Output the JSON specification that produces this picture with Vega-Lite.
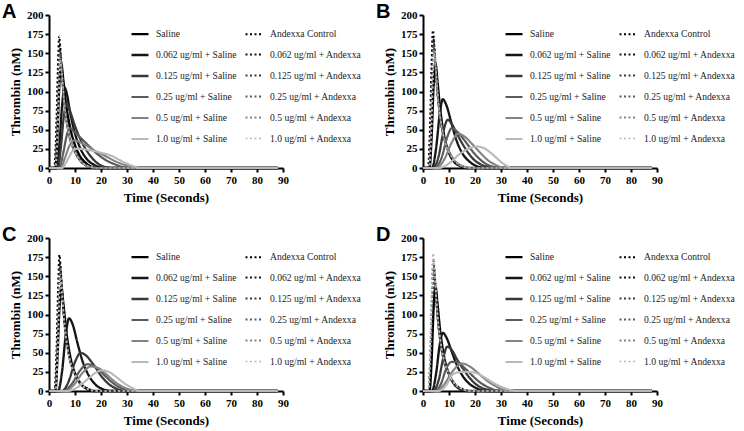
{
  "$schema": "https://vega.github.io/schema/vega-lite/v6.json",
  "background": "white",
  "padding": {"left": 2, "top": 2, "right": 2, "bottom": 2},
  "config": {
    "view": {"stroke": null},
    "font": "Liberation Serif",
    "axis": {"domainColor": "#000", "domainWidth": 2, "tickColor": "#000", "tickWidth": 2, "tickSize": 4, "labelFont": "Liberation Serif", "labelFontWeight": "bold", "labelFontSize": 11, "labelColor": "#000", "titleFont": "Liberation Serif", "titleFontWeight": "bold", "titleFontSize": 13, "titleColor": "#000", "grid": false, "labelPadding": 2, "labelFlush": false, "labelOverlap": false},
    "axisX": {"titlePadding": 6},
    "axisY": {"titlePadding": 4},
    "legend": {"orient": "none", "legendX": 81, "legendY": 9, "columns": 2, "symbolType": "stroke", "symbolSize": 289, "labelFont": "Liberation Serif", "labelFontSize": 9.6, "labelColor": "#222", "rowPadding": 6, "columnPadding": 4, "labelOffset": 6, "padding": 0, "labelLimit": 200, "title": null},
    "title": {"font": "Liberation Sans", "fontSize": 20, "fontWeight": "bold", "anchor": "start", "frame": "group", "color": "#000", "offset": -13, "baseline": "alphabetic"}
  },
  "columns": 2,
  "bounds": "flush",
  "spacing": {"row": 70, "column": 140},
  "resolve": {"scale": {"color": "independent", "strokeDash": "independent", "strokeWidth": "independent"}, "legend": {"color": "independent", "strokeDash": "independent", "strokeWidth": "independent"}},
  "datasets": {
    "A": [
      {"s":"Saline","t":0,"y":0},{"s":"Saline","t":2.5,"y":0},{"s":"Saline","t":3.2,"y":40},{"s":"Saline","t":4,"y":110},{"s":"Saline","t":4.7,"y":136},{"s":"Saline","t":5.5,"y":115},{"s":"Saline","t":6.5,"y":85},{"s":"Saline","t":8,"y":55},{"s":"Saline","t":10,"y":30},{"s":"Saline","t":12,"y":15},{"s":"Saline","t":14,"y":7},{"s":"Saline","t":16,"y":2},{"s":"Saline","t":18,"y":0},{"s":"Saline","t":88,"y":0},
      {"s":"Andexxa Control","t":0,"y":0},{"s":"Andexxa Control","t":2,"y":0},{"s":"Andexxa Control","t":2.8,"y":52},{"s":"Andexxa Control","t":3.4,"y":129},{"s":"Andexxa Control","t":3.9,"y":172},{"s":"Andexxa Control","t":4.5,"y":150},{"s":"Andexxa Control","t":5.5,"y":100},{"s":"Andexxa Control","t":6.5,"y":69},{"s":"Andexxa Control","t":7.9,"y":41},{"s":"Andexxa Control","t":9.9,"y":22},{"s":"Andexxa Control","t":11.9,"y":10},{"s":"Andexxa Control","t":14.9,"y":3},{"s":"Andexxa Control","t":17.9,"y":0},{"s":"Andexxa Control","t":88,"y":0},
      {"s":"0.062 ug/ml + Saline","t":0,"y":0},{"s":"0.062 ug/ml + Saline","t":3,"y":0},{"s":"0.062 ug/ml + Saline","t":4,"y":30},{"s":"0.062 ug/ml + Saline","t":5,"y":80},{"s":"0.062 ug/ml + Saline","t":6,"y":105},{"s":"0.062 ug/ml + Saline","t":7,"y":95},{"s":"0.062 ug/ml + Saline","t":8,"y":75},{"s":"0.062 ug/ml + Saline","t":10,"y":45},{"s":"0.062 ug/ml + Saline","t":12,"y":26},{"s":"0.062 ug/ml + Saline","t":15,"y":10},{"s":"0.062 ug/ml + Saline","t":18,"y":3},{"s":"0.062 ug/ml + Saline","t":21,"y":0},{"s":"0.062 ug/ml + Saline","t":88,"y":0},
      {"s":"0.062 ug/ml + Andexxa","t":0,"y":0},{"s":"0.062 ug/ml + Andexxa","t":2.1,"y":0},{"s":"0.062 ug/ml + Andexxa","t":2.9,"y":49},{"s":"0.062 ug/ml + Andexxa","t":3.5,"y":122},{"s":"0.062 ug/ml + Andexxa","t":4,"y":162},{"s":"0.062 ug/ml + Andexxa","t":4.6,"y":141},{"s":"0.062 ug/ml + Andexxa","t":5.6,"y":94},{"s":"0.062 ug/ml + Andexxa","t":6.6,"y":65},{"s":"0.062 ug/ml + Andexxa","t":8,"y":39},{"s":"0.062 ug/ml + Andexxa","t":10,"y":21},{"s":"0.062 ug/ml + Andexxa","t":12,"y":10},{"s":"0.062 ug/ml + Andexxa","t":15,"y":2},{"s":"0.062 ug/ml + Andexxa","t":18,"y":0},{"s":"0.062 ug/ml + Andexxa","t":88,"y":0},
      {"s":"0.125 ug/ml + Saline","t":0,"y":0},{"s":"0.125 ug/ml + Saline","t":3.5,"y":0},{"s":"0.125 ug/ml + Saline","t":4.5,"y":25},{"s":"0.125 ug/ml + Saline","t":5.8,"y":70},{"s":"0.125 ug/ml + Saline","t":6.8,"y":85},{"s":"0.125 ug/ml + Saline","t":8,"y":75},{"s":"0.125 ug/ml + Saline","t":10,"y":55},{"s":"0.125 ug/ml + Saline","t":12,"y":38},{"s":"0.125 ug/ml + Saline","t":15,"y":20},{"s":"0.125 ug/ml + Saline","t":18,"y":8},{"s":"0.125 ug/ml + Saline","t":22,"y":1},{"s":"0.125 ug/ml + Saline","t":25,"y":0},{"s":"0.125 ug/ml + Saline","t":88,"y":0},
      {"s":"0.125 ug/ml + Andexxa","t":0,"y":0},{"s":"0.125 ug/ml + Andexxa","t":2.2,"y":0},{"s":"0.125 ug/ml + Andexxa","t":3,"y":46},{"s":"0.125 ug/ml + Andexxa","t":3.6,"y":116},{"s":"0.125 ug/ml + Andexxa","t":4.1,"y":155},{"s":"0.125 ug/ml + Andexxa","t":4.7,"y":135},{"s":"0.125 ug/ml + Andexxa","t":5.7,"y":90},{"s":"0.125 ug/ml + Andexxa","t":6.7,"y":62},{"s":"0.125 ug/ml + Andexxa","t":8.1,"y":37},{"s":"0.125 ug/ml + Andexxa","t":10.1,"y":20},{"s":"0.125 ug/ml + Andexxa","t":12.1,"y":9},{"s":"0.125 ug/ml + Andexxa","t":15.1,"y":2},{"s":"0.125 ug/ml + Andexxa","t":18.1,"y":0},{"s":"0.125 ug/ml + Andexxa","t":88,"y":0},
      {"s":"0.25 ug/ml + Saline","t":0,"y":0},{"s":"0.25 ug/ml + Saline","t":4,"y":0},{"s":"0.25 ug/ml + Saline","t":5.5,"y":20},{"s":"0.25 ug/ml + Saline","t":7,"y":45},{"s":"0.25 ug/ml + Saline","t":8,"y":52},{"s":"0.25 ug/ml + Saline","t":9.5,"y":48},{"s":"0.25 ug/ml + Saline","t":12,"y":40},{"s":"0.25 ug/ml + Saline","t":15,"y":30},{"s":"0.25 ug/ml + Saline","t":18,"y":20},{"s":"0.25 ug/ml + Saline","t":22,"y":10},{"s":"0.25 ug/ml + Saline","t":26,"y":4},{"s":"0.25 ug/ml + Saline","t":30,"y":0},{"s":"0.25 ug/ml + Saline","t":88,"y":0},
      {"s":"0.25 ug/ml + Andexxa","t":0,"y":0},{"s":"0.25 ug/ml + Andexxa","t":2.3,"y":0},{"s":"0.25 ug/ml + Andexxa","t":3.1,"y":45},{"s":"0.25 ug/ml + Andexxa","t":3.7,"y":112},{"s":"0.25 ug/ml + Andexxa","t":4.2,"y":150},{"s":"0.25 ug/ml + Andexxa","t":4.8,"y":130},{"s":"0.25 ug/ml + Andexxa","t":5.8,"y":87},{"s":"0.25 ug/ml + Andexxa","t":6.8,"y":60},{"s":"0.25 ug/ml + Andexxa","t":8.2,"y":36},{"s":"0.25 ug/ml + Andexxa","t":10.2,"y":19},{"s":"0.25 ug/ml + Andexxa","t":12.2,"y":9},{"s":"0.25 ug/ml + Andexxa","t":15.2,"y":2},{"s":"0.25 ug/ml + Andexxa","t":18.2,"y":0},{"s":"0.25 ug/ml + Andexxa","t":88,"y":0},
      {"s":"0.5 ug/ml + Saline","t":0,"y":0},{"s":"0.5 ug/ml + Saline","t":4.5,"y":0},{"s":"0.5 ug/ml + Saline","t":6,"y":12},{"s":"0.5 ug/ml + Saline","t":8,"y":30},{"s":"0.5 ug/ml + Saline","t":9.5,"y":36},{"s":"0.5 ug/ml + Saline","t":11,"y":35},{"s":"0.5 ug/ml + Saline","t":14,"y":30},{"s":"0.5 ug/ml + Saline","t":18,"y":22},{"s":"0.5 ug/ml + Saline","t":22,"y":15},{"s":"0.5 ug/ml + Saline","t":26,"y":8},{"s":"0.5 ug/ml + Saline","t":30,"y":3},{"s":"0.5 ug/ml + Saline","t":33,"y":0},{"s":"0.5 ug/ml + Saline","t":88,"y":0},
      {"s":"0.5 ug/ml + Andexxa","t":0,"y":0},{"s":"0.5 ug/ml + Andexxa","t":2.4,"y":0},{"s":"0.5 ug/ml + Andexxa","t":3.2,"y":43},{"s":"0.5 ug/ml + Andexxa","t":3.8,"y":108},{"s":"0.5 ug/ml + Andexxa","t":4.3,"y":145},{"s":"0.5 ug/ml + Andexxa","t":4.9,"y":126},{"s":"0.5 ug/ml + Andexxa","t":5.9,"y":84},{"s":"0.5 ug/ml + Andexxa","t":6.9,"y":58},{"s":"0.5 ug/ml + Andexxa","t":8.3,"y":35},{"s":"0.5 ug/ml + Andexxa","t":10.3,"y":19},{"s":"0.5 ug/ml + Andexxa","t":12.3,"y":9},{"s":"0.5 ug/ml + Andexxa","t":15.3,"y":2},{"s":"0.5 ug/ml + Andexxa","t":18.3,"y":0},{"s":"0.5 ug/ml + Andexxa","t":88,"y":0},
      {"s":"1.0 ug/ml + Saline","t":0,"y":0},{"s":"1.0 ug/ml + Saline","t":5,"y":0},{"s":"1.0 ug/ml + Saline","t":7,"y":10},{"s":"1.0 ug/ml + Saline","t":9,"y":22},{"s":"1.0 ug/ml + Saline","t":10,"y":25},{"s":"1.0 ug/ml + Saline","t":12,"y":25},{"s":"1.0 ug/ml + Saline","t":16,"y":23},{"s":"1.0 ug/ml + Saline","t":20,"y":20},{"s":"1.0 ug/ml + Saline","t":24,"y":16},{"s":"1.0 ug/ml + Saline","t":28,"y":9},{"s":"1.0 ug/ml + Saline","t":32,"y":3},{"s":"1.0 ug/ml + Saline","t":35,"y":0},{"s":"1.0 ug/ml + Saline","t":88,"y":0},
      {"s":"1.0 ug/ml + Andexxa","t":0,"y":0},{"s":"1.0 ug/ml + Andexxa","t":2.5,"y":0},{"s":"1.0 ug/ml + Andexxa","t":3.3,"y":42},{"s":"1.0 ug/ml + Andexxa","t":3.9,"y":105},{"s":"1.0 ug/ml + Andexxa","t":4.4,"y":140},{"s":"1.0 ug/ml + Andexxa","t":5,"y":122},{"s":"1.0 ug/ml + Andexxa","t":6,"y":81},{"s":"1.0 ug/ml + Andexxa","t":7,"y":56},{"s":"1.0 ug/ml + Andexxa","t":8.4,"y":34},{"s":"1.0 ug/ml + Andexxa","t":10.4,"y":18},{"s":"1.0 ug/ml + Andexxa","t":12.4,"y":8},{"s":"1.0 ug/ml + Andexxa","t":15.4,"y":2},{"s":"1.0 ug/ml + Andexxa","t":18.4,"y":0},{"s":"1.0 ug/ml + Andexxa","t":88,"y":0}
    ],
    "B": [
      {"s":"Saline","t":0,"y":0},{"s":"Saline","t":2.5,"y":0},{"s":"Saline","t":3.3,"y":40},{"s":"Saline","t":4.1,"y":110},{"s":"Saline","t":4.8,"y":136},{"s":"Saline","t":5.6,"y":112},{"s":"Saline","t":6.5,"y":80},{"s":"Saline","t":8,"y":45},{"s":"Saline","t":10,"y":20},{"s":"Saline","t":12,"y":8},{"s":"Saline","t":14,"y":3},{"s":"Saline","t":17,"y":0},{"s":"Saline","t":88,"y":0},
      {"s":"Andexxa Control","t":0,"y":0},{"s":"Andexxa Control","t":1.9,"y":0},{"s":"Andexxa Control","t":2.7,"y":54},{"s":"Andexxa Control","t":3.3,"y":135},{"s":"Andexxa Control","t":3.8,"y":180},{"s":"Andexxa Control","t":4.4,"y":157},{"s":"Andexxa Control","t":5.4,"y":104},{"s":"Andexxa Control","t":6.4,"y":72},{"s":"Andexxa Control","t":7.8,"y":43},{"s":"Andexxa Control","t":9.8,"y":23},{"s":"Andexxa Control","t":11.8,"y":11},{"s":"Andexxa Control","t":14.8,"y":3},{"s":"Andexxa Control","t":17.8,"y":0},{"s":"Andexxa Control","t":88,"y":0},
      {"s":"0.062 ug/ml + Saline","t":0,"y":0},{"s":"0.062 ug/ml + Saline","t":3.5,"y":0},{"s":"0.062 ug/ml + Saline","t":5,"y":25},{"s":"0.062 ug/ml + Saline","t":6.5,"y":72},{"s":"0.062 ug/ml + Saline","t":7.6,"y":90},{"s":"0.062 ug/ml + Saline","t":9,"y":82},{"s":"0.062 ug/ml + Saline","t":11,"y":58},{"s":"0.062 ug/ml + Saline","t":13,"y":35},{"s":"0.062 ug/ml + Saline","t":15,"y":20},{"s":"0.062 ug/ml + Saline","t":18,"y":8},{"s":"0.062 ug/ml + Saline","t":21,"y":2},{"s":"0.062 ug/ml + Saline","t":24,"y":0},{"s":"0.062 ug/ml + Saline","t":88,"y":0},
      {"s":"0.062 ug/ml + Andexxa","t":0,"y":0},{"s":"0.062 ug/ml + Andexxa","t":2,"y":0},{"s":"0.062 ug/ml + Andexxa","t":2.8,"y":52},{"s":"0.062 ug/ml + Andexxa","t":3.4,"y":129},{"s":"0.062 ug/ml + Andexxa","t":3.9,"y":172},{"s":"0.062 ug/ml + Andexxa","t":4.5,"y":150},{"s":"0.062 ug/ml + Andexxa","t":5.5,"y":100},{"s":"0.062 ug/ml + Andexxa","t":6.5,"y":69},{"s":"0.062 ug/ml + Andexxa","t":7.9,"y":41},{"s":"0.062 ug/ml + Andexxa","t":9.9,"y":22},{"s":"0.062 ug/ml + Andexxa","t":11.9,"y":10},{"s":"0.062 ug/ml + Andexxa","t":14.9,"y":3},{"s":"0.062 ug/ml + Andexxa","t":17.9,"y":0},{"s":"0.062 ug/ml + Andexxa","t":88,"y":0},
      {"s":"0.125 ug/ml + Saline","t":0,"y":0},{"s":"0.125 ug/ml + Saline","t":4,"y":0},{"s":"0.125 ug/ml + Saline","t":6,"y":15},{"s":"0.125 ug/ml + Saline","t":8,"y":50},{"s":"0.125 ug/ml + Saline","t":9.5,"y":63},{"s":"0.125 ug/ml + Saline","t":11,"y":58},{"s":"0.125 ug/ml + Saline","t":13,"y":45},{"s":"0.125 ug/ml + Saline","t":16,"y":27},{"s":"0.125 ug/ml + Saline","t":19,"y":13},{"s":"0.125 ug/ml + Saline","t":22,"y":5},{"s":"0.125 ug/ml + Saline","t":26,"y":1},{"s":"0.125 ug/ml + Saline","t":28,"y":0},{"s":"0.125 ug/ml + Saline","t":88,"y":0},
      {"s":"0.125 ug/ml + Andexxa","t":0,"y":0},{"s":"0.125 ug/ml + Andexxa","t":2.1,"y":0},{"s":"0.125 ug/ml + Andexxa","t":2.9,"y":50},{"s":"0.125 ug/ml + Andexxa","t":3.5,"y":124},{"s":"0.125 ug/ml + Andexxa","t":4,"y":165},{"s":"0.125 ug/ml + Andexxa","t":4.6,"y":144},{"s":"0.125 ug/ml + Andexxa","t":5.6,"y":96},{"s":"0.125 ug/ml + Andexxa","t":6.6,"y":66},{"s":"0.125 ug/ml + Andexxa","t":8,"y":40},{"s":"0.125 ug/ml + Andexxa","t":10,"y":21},{"s":"0.125 ug/ml + Andexxa","t":12,"y":10},{"s":"0.125 ug/ml + Andexxa","t":15,"y":2},{"s":"0.125 ug/ml + Andexxa","t":18,"y":0},{"s":"0.125 ug/ml + Andexxa","t":88,"y":0},
      {"s":"0.25 ug/ml + Saline","t":0,"y":0},{"s":"0.25 ug/ml + Saline","t":4.5,"y":0},{"s":"0.25 ug/ml + Saline","t":7,"y":12},{"s":"0.25 ug/ml + Saline","t":9.5,"y":42},{"s":"0.25 ug/ml + Saline","t":11,"y":52},{"s":"0.25 ug/ml + Saline","t":13,"y":48},{"s":"0.25 ug/ml + Saline","t":16,"y":36},{"s":"0.25 ug/ml + Saline","t":19,"y":22},{"s":"0.25 ug/ml + Saline","t":22,"y":11},{"s":"0.25 ug/ml + Saline","t":25,"y":4},{"s":"0.25 ug/ml + Saline","t":28,"y":1},{"s":"0.25 ug/ml + Saline","t":30,"y":0},{"s":"0.25 ug/ml + Saline","t":88,"y":0},
      {"s":"0.25 ug/ml + Andexxa","t":0,"y":0},{"s":"0.25 ug/ml + Andexxa","t":2.2,"y":0},{"s":"0.25 ug/ml + Andexxa","t":3,"y":48},{"s":"0.25 ug/ml + Andexxa","t":3.6,"y":120},{"s":"0.25 ug/ml + Andexxa","t":4.1,"y":160},{"s":"0.25 ug/ml + Andexxa","t":4.7,"y":139},{"s":"0.25 ug/ml + Andexxa","t":5.7,"y":93},{"s":"0.25 ug/ml + Andexxa","t":6.7,"y":64},{"s":"0.25 ug/ml + Andexxa","t":8.1,"y":38},{"s":"0.25 ug/ml + Andexxa","t":10.1,"y":21},{"s":"0.25 ug/ml + Andexxa","t":12.1,"y":10},{"s":"0.25 ug/ml + Andexxa","t":15.1,"y":2},{"s":"0.25 ug/ml + Andexxa","t":18.1,"y":0},{"s":"0.25 ug/ml + Andexxa","t":88,"y":0},
      {"s":"0.5 ug/ml + Saline","t":0,"y":0},{"s":"0.5 ug/ml + Saline","t":5,"y":0},{"s":"0.5 ug/ml + Saline","t":8,"y":10},{"s":"0.5 ug/ml + Saline","t":11,"y":33},{"s":"0.5 ug/ml + Saline","t":13.5,"y":45},{"s":"0.5 ug/ml + Saline","t":16,"y":41},{"s":"0.5 ug/ml + Saline","t":19,"y":31},{"s":"0.5 ug/ml + Saline","t":22,"y":20},{"s":"0.5 ug/ml + Saline","t":25,"y":10},{"s":"0.5 ug/ml + Saline","t":28,"y":4},{"s":"0.5 ug/ml + Saline","t":31,"y":0},{"s":"0.5 ug/ml + Saline","t":88,"y":0},
      {"s":"0.5 ug/ml + Andexxa","t":0,"y":0},{"s":"0.5 ug/ml + Andexxa","t":2.3,"y":0},{"s":"0.5 ug/ml + Andexxa","t":3.1,"y":46},{"s":"0.5 ug/ml + Andexxa","t":3.7,"y":116},{"s":"0.5 ug/ml + Andexxa","t":4.2,"y":155},{"s":"0.5 ug/ml + Andexxa","t":4.8,"y":135},{"s":"0.5 ug/ml + Andexxa","t":5.8,"y":90},{"s":"0.5 ug/ml + Andexxa","t":6.8,"y":62},{"s":"0.5 ug/ml + Andexxa","t":8.2,"y":37},{"s":"0.5 ug/ml + Andexxa","t":10.2,"y":20},{"s":"0.5 ug/ml + Andexxa","t":12.2,"y":9},{"s":"0.5 ug/ml + Andexxa","t":15.2,"y":2},{"s":"0.5 ug/ml + Andexxa","t":18.2,"y":0},{"s":"0.5 ug/ml + Andexxa","t":88,"y":0},
      {"s":"1.0 ug/ml + Saline","t":0,"y":0},{"s":"1.0 ug/ml + Saline","t":6,"y":0},{"s":"1.0 ug/ml + Saline","t":10,"y":6},{"s":"1.0 ug/ml + Saline","t":14,"y":18},{"s":"1.0 ug/ml + Saline","t":18,"y":26},{"s":"1.0 ug/ml + Saline","t":21,"y":28},{"s":"1.0 ug/ml + Saline","t":24,"y":25},{"s":"1.0 ug/ml + Saline","t":27,"y":17},{"s":"1.0 ug/ml + Saline","t":30,"y":8},{"s":"1.0 ug/ml + Saline","t":32,"y":3},{"s":"1.0 ug/ml + Saline","t":34,"y":0},{"s":"1.0 ug/ml + Saline","t":88,"y":0},
      {"s":"1.0 ug/ml + Andexxa","t":0,"y":0},{"s":"1.0 ug/ml + Andexxa","t":2.4,"y":0},{"s":"1.0 ug/ml + Andexxa","t":3.2,"y":45},{"s":"1.0 ug/ml + Andexxa","t":3.8,"y":112},{"s":"1.0 ug/ml + Andexxa","t":4.3,"y":150},{"s":"1.0 ug/ml + Andexxa","t":4.9,"y":130},{"s":"1.0 ug/ml + Andexxa","t":5.9,"y":87},{"s":"1.0 ug/ml + Andexxa","t":6.9,"y":60},{"s":"1.0 ug/ml + Andexxa","t":8.3,"y":36},{"s":"1.0 ug/ml + Andexxa","t":10.3,"y":19},{"s":"1.0 ug/ml + Andexxa","t":12.3,"y":9},{"s":"1.0 ug/ml + Andexxa","t":15.3,"y":2},{"s":"1.0 ug/ml + Andexxa","t":18.3,"y":0},{"s":"1.0 ug/ml + Andexxa","t":88,"y":0}
    ],
    "C": [
      {"s":"Saline","t":0,"y":0},{"s":"Saline","t":2.5,"y":0},{"s":"Saline","t":3.2,"y":40},{"s":"Saline","t":4,"y":108},{"s":"Saline","t":4.7,"y":136},{"s":"Saline","t":5.5,"y":115},{"s":"Saline","t":6.5,"y":82},{"s":"Saline","t":8,"y":48},{"s":"Saline","t":10,"y":23},{"s":"Saline","t":12,"y":10},{"s":"Saline","t":14,"y":4},{"s":"Saline","t":17,"y":0},{"s":"Saline","t":88,"y":0},
      {"s":"Andexxa Control","t":0,"y":0},{"s":"Andexxa Control","t":2.1,"y":0},{"s":"Andexxa Control","t":2.9,"y":53},{"s":"Andexxa Control","t":3.5,"y":134},{"s":"Andexxa Control","t":4,"y":178},{"s":"Andexxa Control","t":4.6,"y":155},{"s":"Andexxa Control","t":5.6,"y":103},{"s":"Andexxa Control","t":6.6,"y":71},{"s":"Andexxa Control","t":8,"y":43},{"s":"Andexxa Control","t":10,"y":23},{"s":"Andexxa Control","t":12,"y":11},{"s":"Andexxa Control","t":15,"y":3},{"s":"Andexxa Control","t":18,"y":0},{"s":"Andexxa Control","t":88,"y":0},
      {"s":"0.062 ug/ml + Saline","t":0,"y":0},{"s":"0.062 ug/ml + Saline","t":3.5,"y":0},{"s":"0.062 ug/ml + Saline","t":5,"y":25},{"s":"0.062 ug/ml + Saline","t":6.5,"y":75},{"s":"0.062 ug/ml + Saline","t":7.7,"y":95},{"s":"0.062 ug/ml + Saline","t":9,"y":88},{"s":"0.062 ug/ml + Saline","t":11,"y":62},{"s":"0.062 ug/ml + Saline","t":13,"y":38},{"s":"0.062 ug/ml + Saline","t":15,"y":22},{"s":"0.062 ug/ml + Saline","t":18,"y":8},{"s":"0.062 ug/ml + Saline","t":21,"y":2},{"s":"0.062 ug/ml + Saline","t":24,"y":0},{"s":"0.062 ug/ml + Saline","t":88,"y":0},
      {"s":"0.062 ug/ml + Andexxa","t":0,"y":0},{"s":"0.062 ug/ml + Andexxa","t":2.2,"y":0},{"s":"0.062 ug/ml + Andexxa","t":3,"y":50},{"s":"0.062 ug/ml + Andexxa","t":3.6,"y":126},{"s":"0.062 ug/ml + Andexxa","t":4.1,"y":168},{"s":"0.062 ug/ml + Andexxa","t":4.7,"y":146},{"s":"0.062 ug/ml + Andexxa","t":5.7,"y":97},{"s":"0.062 ug/ml + Andexxa","t":6.7,"y":67},{"s":"0.062 ug/ml + Andexxa","t":8.1,"y":40},{"s":"0.062 ug/ml + Andexxa","t":10.1,"y":22},{"s":"0.062 ug/ml + Andexxa","t":12.1,"y":10},{"s":"0.062 ug/ml + Andexxa","t":15.1,"y":3},{"s":"0.062 ug/ml + Andexxa","t":18.1,"y":0},{"s":"0.062 ug/ml + Andexxa","t":88,"y":0},
      {"s":"0.125 ug/ml + Saline","t":0,"y":0},{"s":"0.125 ug/ml + Saline","t":5,"y":0},{"s":"0.125 ug/ml + Saline","t":7.5,"y":12},{"s":"0.125 ug/ml + Saline","t":10,"y":38},{"s":"0.125 ug/ml + Saline","t":12.2,"y":50},{"s":"0.125 ug/ml + Saline","t":14,"y":47},{"s":"0.125 ug/ml + Saline","t":17,"y":35},{"s":"0.125 ug/ml + Saline","t":20,"y":20},{"s":"0.125 ug/ml + Saline","t":23,"y":9},{"s":"0.125 ug/ml + Saline","t":26,"y":3},{"s":"0.125 ug/ml + Saline","t":29,"y":0},{"s":"0.125 ug/ml + Saline","t":88,"y":0},
      {"s":"0.125 ug/ml + Andexxa","t":0,"y":0},{"s":"0.125 ug/ml + Andexxa","t":2.3,"y":0},{"s":"0.125 ug/ml + Andexxa","t":3.1,"y":49},{"s":"0.125 ug/ml + Andexxa","t":3.7,"y":122},{"s":"0.125 ug/ml + Andexxa","t":4.2,"y":162},{"s":"0.125 ug/ml + Andexxa","t":4.8,"y":141},{"s":"0.125 ug/ml + Andexxa","t":5.8,"y":94},{"s":"0.125 ug/ml + Andexxa","t":6.8,"y":65},{"s":"0.125 ug/ml + Andexxa","t":8.2,"y":39},{"s":"0.125 ug/ml + Andexxa","t":10.2,"y":21},{"s":"0.125 ug/ml + Andexxa","t":12.2,"y":10},{"s":"0.125 ug/ml + Andexxa","t":15.2,"y":2},{"s":"0.125 ug/ml + Andexxa","t":18.2,"y":0},{"s":"0.125 ug/ml + Andexxa","t":88,"y":0},
      {"s":"0.25 ug/ml + Saline","t":0,"y":0},{"s":"0.25 ug/ml + Saline","t":5.5,"y":0},{"s":"0.25 ug/ml + Saline","t":8.5,"y":8},{"s":"0.25 ug/ml + Saline","t":12,"y":27},{"s":"0.25 ug/ml + Saline","t":14.7,"y":35},{"s":"0.25 ug/ml + Saline","t":17,"y":33},{"s":"0.25 ug/ml + Saline","t":20,"y":25},{"s":"0.25 ug/ml + Saline","t":23,"y":15},{"s":"0.25 ug/ml + Saline","t":26,"y":7},{"s":"0.25 ug/ml + Saline","t":29,"y":2},{"s":"0.25 ug/ml + Saline","t":32,"y":0},{"s":"0.25 ug/ml + Saline","t":88,"y":0},
      {"s":"0.25 ug/ml + Andexxa","t":0,"y":0},{"s":"0.25 ug/ml + Andexxa","t":2.4,"y":0},{"s":"0.25 ug/ml + Andexxa","t":3.2,"y":47},{"s":"0.25 ug/ml + Andexxa","t":3.8,"y":118},{"s":"0.25 ug/ml + Andexxa","t":4.3,"y":158},{"s":"0.25 ug/ml + Andexxa","t":4.9,"y":137},{"s":"0.25 ug/ml + Andexxa","t":5.9,"y":92},{"s":"0.25 ug/ml + Andexxa","t":6.9,"y":63},{"s":"0.25 ug/ml + Andexxa","t":8.3,"y":38},{"s":"0.25 ug/ml + Andexxa","t":10.3,"y":21},{"s":"0.25 ug/ml + Andexxa","t":12.3,"y":9},{"s":"0.25 ug/ml + Andexxa","t":15.3,"y":2},{"s":"0.25 ug/ml + Andexxa","t":18.3,"y":0},{"s":"0.25 ug/ml + Andexxa","t":88,"y":0},
      {"s":"0.5 ug/ml + Saline","t":0,"y":0},{"s":"0.5 ug/ml + Saline","t":6,"y":0},{"s":"0.5 ug/ml + Saline","t":9,"y":6},{"s":"0.5 ug/ml + Saline","t":13,"y":24},{"s":"0.5 ug/ml + Saline","t":16,"y":32},{"s":"0.5 ug/ml + Saline","t":19,"y":30},{"s":"0.5 ug/ml + Saline","t":22,"y":22},{"s":"0.5 ug/ml + Saline","t":25,"y":13},{"s":"0.5 ug/ml + Saline","t":28,"y":6},{"s":"0.5 ug/ml + Saline","t":31,"y":2},{"s":"0.5 ug/ml + Saline","t":34,"y":0},{"s":"0.5 ug/ml + Saline","t":88,"y":0},
      {"s":"0.5 ug/ml + Andexxa","t":0,"y":0},{"s":"0.5 ug/ml + Andexxa","t":2.4,"y":0},{"s":"0.5 ug/ml + Andexxa","t":3.2,"y":46},{"s":"0.5 ug/ml + Andexxa","t":3.8,"y":114},{"s":"0.5 ug/ml + Andexxa","t":4.3,"y":152},{"s":"0.5 ug/ml + Andexxa","t":4.9,"y":132},{"s":"0.5 ug/ml + Andexxa","t":5.9,"y":88},{"s":"0.5 ug/ml + Andexxa","t":6.9,"y":61},{"s":"0.5 ug/ml + Andexxa","t":8.3,"y":36},{"s":"0.5 ug/ml + Andexxa","t":10.3,"y":20},{"s":"0.5 ug/ml + Andexxa","t":12.3,"y":9},{"s":"0.5 ug/ml + Andexxa","t":15.3,"y":2},{"s":"0.5 ug/ml + Andexxa","t":18.3,"y":0},{"s":"0.5 ug/ml + Andexxa","t":88,"y":0},
      {"s":"1.0 ug/ml + Saline","t":0,"y":0},{"s":"1.0 ug/ml + Saline","t":7,"y":0},{"s":"1.0 ug/ml + Saline","t":11,"y":5},{"s":"1.0 ug/ml + Saline","t":15,"y":16},{"s":"1.0 ug/ml + Saline","t":18,"y":24},{"s":"1.0 ug/ml + Saline","t":20.5,"y":27},{"s":"1.0 ug/ml + Saline","t":23,"y":25},{"s":"1.0 ug/ml + Saline","t":26,"y":18},{"s":"1.0 ug/ml + Saline","t":29,"y":10},{"s":"1.0 ug/ml + Saline","t":32,"y":4},{"s":"1.0 ug/ml + Saline","t":35,"y":0},{"s":"1.0 ug/ml + Saline","t":88,"y":0},
      {"s":"1.0 ug/ml + Andexxa","t":0,"y":0},{"s":"1.0 ug/ml + Andexxa","t":2.5,"y":0},{"s":"1.0 ug/ml + Andexxa","t":3.3,"y":44},{"s":"1.0 ug/ml + Andexxa","t":3.9,"y":110},{"s":"1.0 ug/ml + Andexxa","t":4.4,"y":146},{"s":"1.0 ug/ml + Andexxa","t":5,"y":127},{"s":"1.0 ug/ml + Andexxa","t":6,"y":85},{"s":"1.0 ug/ml + Andexxa","t":7,"y":58},{"s":"1.0 ug/ml + Andexxa","t":8.4,"y":35},{"s":"1.0 ug/ml + Andexxa","t":10.4,"y":19},{"s":"1.0 ug/ml + Andexxa","t":12.4,"y":9},{"s":"1.0 ug/ml + Andexxa","t":15.4,"y":2},{"s":"1.0 ug/ml + Andexxa","t":18.4,"y":0},{"s":"1.0 ug/ml + Andexxa","t":88,"y":0}
    ],
    "D": [
      {"s":"Saline","t":0,"y":0},{"s":"Saline","t":2.5,"y":0},{"s":"Saline","t":3.3,"y":40},{"s":"Saline","t":4.1,"y":110},{"s":"Saline","t":4.8,"y":136},{"s":"Saline","t":5.6,"y":113},{"s":"Saline","t":6.5,"y":82},{"s":"Saline","t":8,"y":47},{"s":"Saline","t":10,"y":22},{"s":"Saline","t":12,"y":9},{"s":"Saline","t":14,"y":3},{"s":"Saline","t":17,"y":0},{"s":"Saline","t":88,"y":0},
      {"s":"Andexxa Control","t":0,"y":0},{"s":"Andexxa Control","t":2.1,"y":0},{"s":"Andexxa Control","t":2.9,"y":51},{"s":"Andexxa Control","t":3.5,"y":128},{"s":"Andexxa Control","t":4,"y":170},{"s":"Andexxa Control","t":4.6,"y":148},{"s":"Andexxa Control","t":5.6,"y":99},{"s":"Andexxa Control","t":6.6,"y":68},{"s":"Andexxa Control","t":8,"y":41},{"s":"Andexxa Control","t":10,"y":22},{"s":"Andexxa Control","t":12,"y":10},{"s":"Andexxa Control","t":15,"y":3},{"s":"Andexxa Control","t":18,"y":0},{"s":"Andexxa Control","t":88,"y":0},
      {"s":"0.062 ug/ml + Saline","t":0,"y":0},{"s":"0.062 ug/ml + Saline","t":3.5,"y":0},{"s":"0.062 ug/ml + Saline","t":5,"y":22},{"s":"0.062 ug/ml + Saline","t":6.5,"y":62},{"s":"0.062 ug/ml + Saline","t":7.6,"y":76},{"s":"0.062 ug/ml + Saline","t":9,"y":70},{"s":"0.062 ug/ml + Saline","t":11,"y":52},{"s":"0.062 ug/ml + Saline","t":13,"y":34},{"s":"0.062 ug/ml + Saline","t":15,"y":21},{"s":"0.062 ug/ml + Saline","t":18,"y":9},{"s":"0.062 ug/ml + Saline","t":21,"y":3},{"s":"0.062 ug/ml + Saline","t":24,"y":0},{"s":"0.062 ug/ml + Saline","t":88,"y":0},
      {"s":"0.062 ug/ml + Andexxa","t":0,"y":0},{"s":"0.062 ug/ml + Andexxa","t":2.2,"y":0},{"s":"0.062 ug/ml + Andexxa","t":3,"y":49},{"s":"0.062 ug/ml + Andexxa","t":3.6,"y":122},{"s":"0.062 ug/ml + Andexxa","t":4.1,"y":162},{"s":"0.062 ug/ml + Andexxa","t":4.7,"y":141},{"s":"0.062 ug/ml + Andexxa","t":5.7,"y":94},{"s":"0.062 ug/ml + Andexxa","t":6.7,"y":65},{"s":"0.062 ug/ml + Andexxa","t":8.1,"y":39},{"s":"0.062 ug/ml + Andexxa","t":10.1,"y":21},{"s":"0.062 ug/ml + Andexxa","t":12.1,"y":10},{"s":"0.062 ug/ml + Andexxa","t":15.1,"y":2},{"s":"0.062 ug/ml + Andexxa","t":18.1,"y":0},{"s":"0.062 ug/ml + Andexxa","t":88,"y":0},
      {"s":"0.125 ug/ml + Saline","t":0,"y":0},{"s":"0.125 ug/ml + Saline","t":4,"y":0},{"s":"0.125 ug/ml + Saline","t":6,"y":14},{"s":"0.125 ug/ml + Saline","t":8,"y":46},{"s":"0.125 ug/ml + Saline","t":9.3,"y":58},{"s":"0.125 ug/ml + Saline","t":11,"y":54},{"s":"0.125 ug/ml + Saline","t":13,"y":42},{"s":"0.125 ug/ml + Saline","t":16,"y":26},{"s":"0.125 ug/ml + Saline","t":19,"y":13},{"s":"0.125 ug/ml + Saline","t":22,"y":5},{"s":"0.125 ug/ml + Saline","t":26,"y":1},{"s":"0.125 ug/ml + Saline","t":28,"y":0},{"s":"0.125 ug/ml + Saline","t":88,"y":0},
      {"s":"0.125 ug/ml + Andexxa","t":0,"y":0},{"s":"0.125 ug/ml + Andexxa","t":2.2,"y":0},{"s":"0.125 ug/ml + Andexxa","t":3,"y":47},{"s":"0.125 ug/ml + Andexxa","t":3.6,"y":118},{"s":"0.125 ug/ml + Andexxa","t":4.1,"y":158},{"s":"0.125 ug/ml + Andexxa","t":4.7,"y":137},{"s":"0.125 ug/ml + Andexxa","t":5.7,"y":92},{"s":"0.125 ug/ml + Andexxa","t":6.7,"y":63},{"s":"0.125 ug/ml + Andexxa","t":8.1,"y":38},{"s":"0.125 ug/ml + Andexxa","t":10.1,"y":21},{"s":"0.125 ug/ml + Andexxa","t":12.1,"y":9},{"s":"0.125 ug/ml + Andexxa","t":15.1,"y":2},{"s":"0.125 ug/ml + Andexxa","t":18.1,"y":0},{"s":"0.125 ug/ml + Andexxa","t":88,"y":0},
      {"s":"0.25 ug/ml + Saline","t":0,"y":0},{"s":"0.25 ug/ml + Saline","t":4.5,"y":0},{"s":"0.25 ug/ml + Saline","t":7,"y":10},{"s":"0.25 ug/ml + Saline","t":9,"y":30},{"s":"0.25 ug/ml + Saline","t":11,"y":38},{"s":"0.25 ug/ml + Saline","t":13,"y":38},{"s":"0.25 ug/ml + Saline","t":16,"y":30},{"s":"0.25 ug/ml + Saline","t":19,"y":20},{"s":"0.25 ug/ml + Saline","t":22,"y":11},{"s":"0.25 ug/ml + Saline","t":25,"y":5},{"s":"0.25 ug/ml + Saline","t":28,"y":1},{"s":"0.25 ug/ml + Saline","t":30,"y":0},{"s":"0.25 ug/ml + Saline","t":88,"y":0},
      {"s":"0.25 ug/ml + Andexxa","t":0,"y":0},{"s":"0.25 ug/ml + Andexxa","t":2.1,"y":0},{"s":"0.25 ug/ml + Andexxa","t":2.9,"y":50},{"s":"0.25 ug/ml + Andexxa","t":3.5,"y":124},{"s":"0.25 ug/ml + Andexxa","t":4,"y":166},{"s":"0.25 ug/ml + Andexxa","t":4.6,"y":144},{"s":"0.25 ug/ml + Andexxa","t":5.6,"y":96},{"s":"0.25 ug/ml + Andexxa","t":6.6,"y":66},{"s":"0.25 ug/ml + Andexxa","t":8,"y":40},{"s":"0.25 ug/ml + Andexxa","t":10,"y":22},{"s":"0.25 ug/ml + Andexxa","t":12,"y":10},{"s":"0.25 ug/ml + Andexxa","t":15,"y":2},{"s":"0.25 ug/ml + Andexxa","t":18,"y":0},{"s":"0.25 ug/ml + Andexxa","t":88,"y":0},
      {"s":"0.5 ug/ml + Saline","t":0,"y":0},{"s":"0.5 ug/ml + Saline","t":5,"y":0},{"s":"0.5 ug/ml + Saline","t":8,"y":8},{"s":"0.5 ug/ml + Saline","t":11,"y":24},{"s":"0.5 ug/ml + Saline","t":13,"y":32},{"s":"0.5 ug/ml + Saline","t":15,"y":36},{"s":"0.5 ug/ml + Saline","t":18,"y":32},{"s":"0.5 ug/ml + Saline","t":21,"y":24},{"s":"0.5 ug/ml + Saline","t":24,"y":15},{"s":"0.5 ug/ml + Saline","t":27,"y":8},{"s":"0.5 ug/ml + Saline","t":30,"y":3},{"s":"0.5 ug/ml + Saline","t":33,"y":0},{"s":"0.5 ug/ml + Saline","t":88,"y":0},
      {"s":"0.5 ug/ml + Andexxa","t":0,"y":0},{"s":"0.5 ug/ml + Andexxa","t":2,"y":0},{"s":"0.5 ug/ml + Andexxa","t":2.8,"y":52},{"s":"0.5 ug/ml + Andexxa","t":3.4,"y":130},{"s":"0.5 ug/ml + Andexxa","t":3.9,"y":174},{"s":"0.5 ug/ml + Andexxa","t":4.5,"y":151},{"s":"0.5 ug/ml + Andexxa","t":5.5,"y":101},{"s":"0.5 ug/ml + Andexxa","t":6.5,"y":70},{"s":"0.5 ug/ml + Andexxa","t":7.9,"y":42},{"s":"0.5 ug/ml + Andexxa","t":9.9,"y":23},{"s":"0.5 ug/ml + Andexxa","t":11.9,"y":10},{"s":"0.5 ug/ml + Andexxa","t":14.9,"y":3},{"s":"0.5 ug/ml + Andexxa","t":17.9,"y":0},{"s":"0.5 ug/ml + Andexxa","t":88,"y":0},
      {"s":"1.0 ug/ml + Saline","t":0,"y":0},{"s":"1.0 ug/ml + Saline","t":6,"y":0},{"s":"1.0 ug/ml + Saline","t":9,"y":8},{"s":"1.0 ug/ml + Saline","t":11,"y":20},{"s":"1.0 ug/ml + Saline","t":13,"y":24},{"s":"1.0 ug/ml + Saline","t":16,"y":25},{"s":"1.0 ug/ml + Saline","t":20,"y":24},{"s":"1.0 ug/ml + Saline","t":24,"y":17},{"s":"1.0 ug/ml + Saline","t":28,"y":9},{"s":"1.0 ug/ml + Saline","t":32,"y":3},{"s":"1.0 ug/ml + Saline","t":36,"y":0},{"s":"1.0 ug/ml + Saline","t":88,"y":0},
      {"s":"1.0 ug/ml + Andexxa","t":0,"y":0},{"s":"1.0 ug/ml + Andexxa","t":2,"y":0},{"s":"1.0 ug/ml + Andexxa","t":2.8,"y":54},{"s":"1.0 ug/ml + Andexxa","t":3.4,"y":135},{"s":"1.0 ug/ml + Andexxa","t":3.9,"y":180},{"s":"1.0 ug/ml + Andexxa","t":4.5,"y":157},{"s":"1.0 ug/ml + Andexxa","t":5.5,"y":104},{"s":"1.0 ug/ml + Andexxa","t":6.5,"y":72},{"s":"1.0 ug/ml + Andexxa","t":7.9,"y":43},{"s":"1.0 ug/ml + Andexxa","t":9.9,"y":23},{"s":"1.0 ug/ml + Andexxa","t":11.9,"y":11},{"s":"1.0 ug/ml + Andexxa","t":14.9,"y":3},{"s":"1.0 ug/ml + Andexxa","t":17.9,"y":0},{"s":"1.0 ug/ml + Andexxa","t":88,"y":0}
    ]
  },
  "concat": [
    {
      "title": {"text": "A", "dx": -47},
      "width": 234, "height": 153,
      "data": {"name": "A"},
      "mark": {"type": "line", "interpolate": "monotone"},
      "encoding": {
        "x": {"field": "t", "type": "quantitative", "scale": {"domain": [0, 90], "nice": false}, "axis": {"values": [0,10,20,30,40,50,60,70,80,90], "title": "Time (Seconds)"}},
        "y": {"field": "y", "type": "quantitative", "scale": {"domain": [0, 200], "nice": false}, "axis": {"values": [0,25,50,75,100,125,150,175,200], "title": "Thrombin (nM)"}},
        "color": {"field": "s", "type": "nominal", "scale": {"domain": ["Saline","0.062 ug/ml + Saline","0.125 ug/ml + Saline","0.25 ug/ml + Saline","0.5 ug/ml + Saline","1.0 ug/ml + Saline","Andexxa Control","0.062 ug/ml + Andexxa","0.125 ug/ml + Andexxa","0.25 ug/ml + Andexxa","0.5 ug/ml + Andexxa","1.0 ug/ml + Andexxa"], "range": ["#000000","#151515","#383838","#5a5a5a","#838383","#b8b8b8","#000000","#151515","#383838","#5a5a5a","#838383","#b8b8b8"]}},
        "strokeDash": {"field": "s", "type": "nominal", "scale": {"domain": ["Saline","0.062 ug/ml + Saline","0.125 ug/ml + Saline","0.25 ug/ml + Saline","0.5 ug/ml + Saline","1.0 ug/ml + Saline","Andexxa Control","0.062 ug/ml + Andexxa","0.125 ug/ml + Andexxa","0.25 ug/ml + Andexxa","0.5 ug/ml + Andexxa","1.0 ug/ml + Andexxa"], "range": [[1,0],[1,0],[1,0],[1,0],[1,0],[1,0],[2,2.5],[2,2.5],[2,2.5],[2,2.5],[2,2.5],[2,2.5]]}},
        "strokeWidth": {"field": "s", "type": "nominal", "scale": {"domain": ["Saline","0.062 ug/ml + Saline","0.125 ug/ml + Saline","0.25 ug/ml + Saline","0.5 ug/ml + Saline","1.0 ug/ml + Saline","Andexxa Control","0.062 ug/ml + Andexxa","0.125 ug/ml + Andexxa","0.25 ug/ml + Andexxa","0.5 ug/ml + Andexxa","1.0 ug/ml + Andexxa"], "range": [2.4,1.7,1.7,1.7,1.7,1.7,2,1.7,1.7,1.7,1.7,1.7]}}
      }
    },
    {
      "title": {"text": "B", "dx": -47},
      "width": 234, "height": 153,
      "data": {"name": "B"},
      "mark": {"type": "line", "interpolate": "monotone"},
      "encoding": {
        "x": {"field": "t", "type": "quantitative", "scale": {"domain": [0, 90], "nice": false}, "axis": {"values": [0,10,20,30,40,50,60,70,80,90], "title": "Time (Seconds)"}},
        "y": {"field": "y", "type": "quantitative", "scale": {"domain": [0, 200], "nice": false}, "axis": {"values": [0,25,50,75,100,125,150,175,200], "title": "Thrombin (nM)"}},
        "color": {"field": "s", "type": "nominal", "scale": {"domain": ["Saline","0.062 ug/ml + Saline","0.125 ug/ml + Saline","0.25 ug/ml + Saline","0.5 ug/ml + Saline","1.0 ug/ml + Saline","Andexxa Control","0.062 ug/ml + Andexxa","0.125 ug/ml + Andexxa","0.25 ug/ml + Andexxa","0.5 ug/ml + Andexxa","1.0 ug/ml + Andexxa"], "range": ["#000000","#151515","#383838","#5a5a5a","#838383","#b8b8b8","#000000","#151515","#383838","#5a5a5a","#838383","#b8b8b8"]}},
        "strokeDash": {"field": "s", "type": "nominal", "scale": {"domain": ["Saline","0.062 ug/ml + Saline","0.125 ug/ml + Saline","0.25 ug/ml + Saline","0.5 ug/ml + Saline","1.0 ug/ml + Saline","Andexxa Control","0.062 ug/ml + Andexxa","0.125 ug/ml + Andexxa","0.25 ug/ml + Andexxa","0.5 ug/ml + Andexxa","1.0 ug/ml + Andexxa"], "range": [[1,0],[1,0],[1,0],[1,0],[1,0],[1,0],[2,2.5],[2,2.5],[2,2.5],[2,2.5],[2,2.5],[2,2.5]]}},
        "strokeWidth": {"field": "s", "type": "nominal", "scale": {"domain": ["Saline","0.062 ug/ml + Saline","0.125 ug/ml + Saline","0.25 ug/ml + Saline","0.5 ug/ml + Saline","1.0 ug/ml + Saline","Andexxa Control","0.062 ug/ml + Andexxa","0.125 ug/ml + Andexxa","0.25 ug/ml + Andexxa","0.5 ug/ml + Andexxa","1.0 ug/ml + Andexxa"], "range": [2.4,1.7,1.7,1.7,1.7,1.7,2,1.7,1.7,1.7,1.7,1.7]}}
      }
    },
    {
      "title": {"text": "C", "dx": -47},
      "width": 234, "height": 153,
      "data": {"name": "C"},
      "mark": {"type": "line", "interpolate": "monotone"},
      "encoding": {
        "x": {"field": "t", "type": "quantitative", "scale": {"domain": [0, 90], "nice": false}, "axis": {"values": [0,10,20,30,40,50,60,70,80,90], "title": "Time (Seconds)"}},
        "y": {"field": "y", "type": "quantitative", "scale": {"domain": [0, 200], "nice": false}, "axis": {"values": [0,25,50,75,100,125,150,175,200], "title": "Thrombin (nM)"}},
        "color": {"field": "s", "type": "nominal", "scale": {"domain": ["Saline","0.062 ug/ml + Saline","0.125 ug/ml + Saline","0.25 ug/ml + Saline","0.5 ug/ml + Saline","1.0 ug/ml + Saline","Andexxa Control","0.062 ug/ml + Andexxa","0.125 ug/ml + Andexxa","0.25 ug/ml + Andexxa","0.5 ug/ml + Andexxa","1.0 ug/ml + Andexxa"], "range": ["#000000","#151515","#383838","#5a5a5a","#838383","#b8b8b8","#000000","#151515","#383838","#5a5a5a","#838383","#b8b8b8"]}},
        "strokeDash": {"field": "s", "type": "nominal", "scale": {"domain": ["Saline","0.062 ug/ml + Saline","0.125 ug/ml + Saline","0.25 ug/ml + Saline","0.5 ug/ml + Saline","1.0 ug/ml + Saline","Andexxa Control","0.062 ug/ml + Andexxa","0.125 ug/ml + Andexxa","0.25 ug/ml + Andexxa","0.5 ug/ml + Andexxa","1.0 ug/ml + Andexxa"], "range": [[1,0],[1,0],[1,0],[1,0],[1,0],[1,0],[2,2.5],[2,2.5],[2,2.5],[2,2.5],[2,2.5],[2,2.5]]}},
        "strokeWidth": {"field": "s", "type": "nominal", "scale": {"domain": ["Saline","0.062 ug/ml + Saline","0.125 ug/ml + Saline","0.25 ug/ml + Saline","0.5 ug/ml + Saline","1.0 ug/ml + Saline","Andexxa Control","0.062 ug/ml + Andexxa","0.125 ug/ml + Andexxa","0.25 ug/ml + Andexxa","0.5 ug/ml + Andexxa","1.0 ug/ml + Andexxa"], "range": [2.4,1.7,1.7,1.7,1.7,1.7,2,1.7,1.7,1.7,1.7,1.7]}}
      }
    },
    {
      "title": {"text": "D", "dx": -47},
      "width": 234, "height": 153,
      "data": {"name": "D"},
      "mark": {"type": "line", "interpolate": "monotone"},
      "encoding": {
        "x": {"field": "t", "type": "quantitative", "scale": {"domain": [0, 90], "nice": false}, "axis": {"values": [0,10,20,30,40,50,60,70,80,90], "title": "Time (Seconds)"}},
        "y": {"field": "y", "type": "quantitative", "scale": {"domain": [0, 200], "nice": false}, "axis": {"values": [0,25,50,75,100,125,150,175,200], "title": "Thrombin (nM)"}},
        "color": {"field": "s", "type": "nominal", "scale": {"domain": ["Saline","0.062 ug/ml + Saline","0.125 ug/ml + Saline","0.25 ug/ml + Saline","0.5 ug/ml + Saline","1.0 ug/ml + Saline","Andexxa Control","0.062 ug/ml + Andexxa","0.125 ug/ml + Andexxa","0.25 ug/ml + Andexxa","0.5 ug/ml + Andexxa","1.0 ug/ml + Andexxa"], "range": ["#000000","#151515","#383838","#5a5a5a","#838383","#b8b8b8","#000000","#151515","#383838","#5a5a5a","#838383","#b8b8b8"]}},
        "strokeDash": {"field": "s", "type": "nominal", "scale": {"domain": ["Saline","0.062 ug/ml + Saline","0.125 ug/ml + Saline","0.25 ug/ml + Saline","0.5 ug/ml + Saline","1.0 ug/ml + Saline","Andexxa Control","0.062 ug/ml + Andexxa","0.125 ug/ml + Andexxa","0.25 ug/ml + Andexxa","0.5 ug/ml + Andexxa","1.0 ug/ml + Andexxa"], "range": [[1,0],[1,0],[1,0],[1,0],[1,0],[1,0],[2,2.5],[2,2.5],[2,2.5],[2,2.5],[2,2.5],[2,2.5]]}},
        "strokeWidth": {"field": "s", "type": "nominal", "scale": {"domain": ["Saline","0.062 ug/ml + Saline","0.125 ug/ml + Saline","0.25 ug/ml + Saline","0.5 ug/ml + Saline","1.0 ug/ml + Saline","Andexxa Control","0.062 ug/ml + Andexxa","0.125 ug/ml + Andexxa","0.25 ug/ml + Andexxa","0.5 ug/ml + Andexxa","1.0 ug/ml + Andexxa"], "range": [2.4,1.7,1.7,1.7,1.7,1.7,2,1.7,1.7,1.7,1.7,1.7]}}
      }
    }
  ]
}
